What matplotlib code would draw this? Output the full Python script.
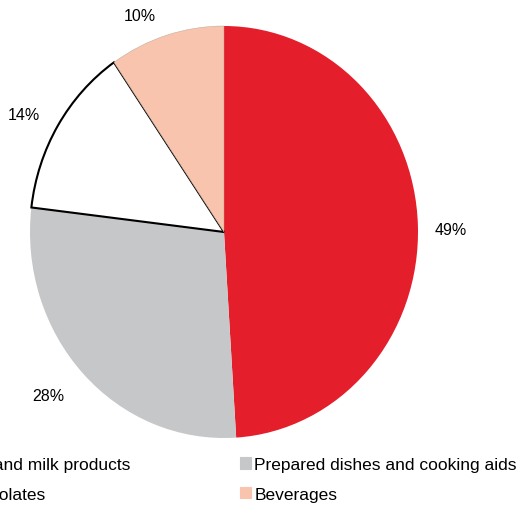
import matplotlib
matplotlib.use("Agg")
import matplotlib.pyplot as plt
from matplotlib.patches import Patch

plt.rcParams['font.family'] = ['Liberation Sans', 'DejaVu Sans']

categories = ["Milk and milk products", "Prepared dishes and cooking aids", "Chocolates", "Beverages"]
shares = [49.0, 27.9, 13.5, 9.6]
colors = ["#E41E2A", "#C6C7C9", "#FFFFFF", "#F8C4AE"]

fig = plt.figure(figsize=(5.18, 5.06), dpi=100)
W, H = 518, 506
# pie centre ~ (224, 233) px, radii 194 x 206 px (slightly stretched, like the original)
ax = fig.add_axes([(224 - 194) / W, (H - 233 - 206) / H, 388 / W, 412 / H])

wedges, texts, autotexts = ax.pie(
    shares, colors=colors, startangle=90, counterclock=False,
    autopct="%.0f%%", pctdistance=1.17,
    textprops=dict(fontsize=11.5, color="black"),
    wedgeprops=dict(linewidth=0))
wedges[2].set_edgecolor("black")
wedges[2].set_linewidth(1.5)
wedges[3].set_edgecolor("#B0A090")
wedges[3].set_linewidth(0.3)

# excel-style "best fit" label spots
label_xy = [(1.17, 0.01), (-0.905, -0.795), (-1.03, 0.57), (-0.433, 1.05)]
for t, xy in zip(autotexts, label_xy):
    t.set_position(xy)

ax.set_aspect("auto")
ax.set_xlim(-1, 1)
ax.set_ylim(-1, 1)
ax.axis("off")

def handle(i):
    ec = "black" if colors[i] == "#FFFFFF" else colors[i]
    return Patch(facecolor=colors[i], edgecolor=ec, linewidth=0.8)

common = dict(frameon=False, fontsize=12.5, handlelength=0.63, handleheight=0.63,
              handletextpad=0.2, borderpad=0, borderaxespad=0, labelspacing=0.85,
              loc="upper left")
fig.legend([handle(0), handle(2)], [categories[0], categories[2]],
           bbox_to_anchor=(-56 / W, (H - 458) / H), **common)
fig.legend([handle(1), handle(3)], [categories[1], categories[3]],
           bbox_to_anchor=(240 / W, (H - 458) / H), **common)

fig.savefig("out.png", dpi=100)
